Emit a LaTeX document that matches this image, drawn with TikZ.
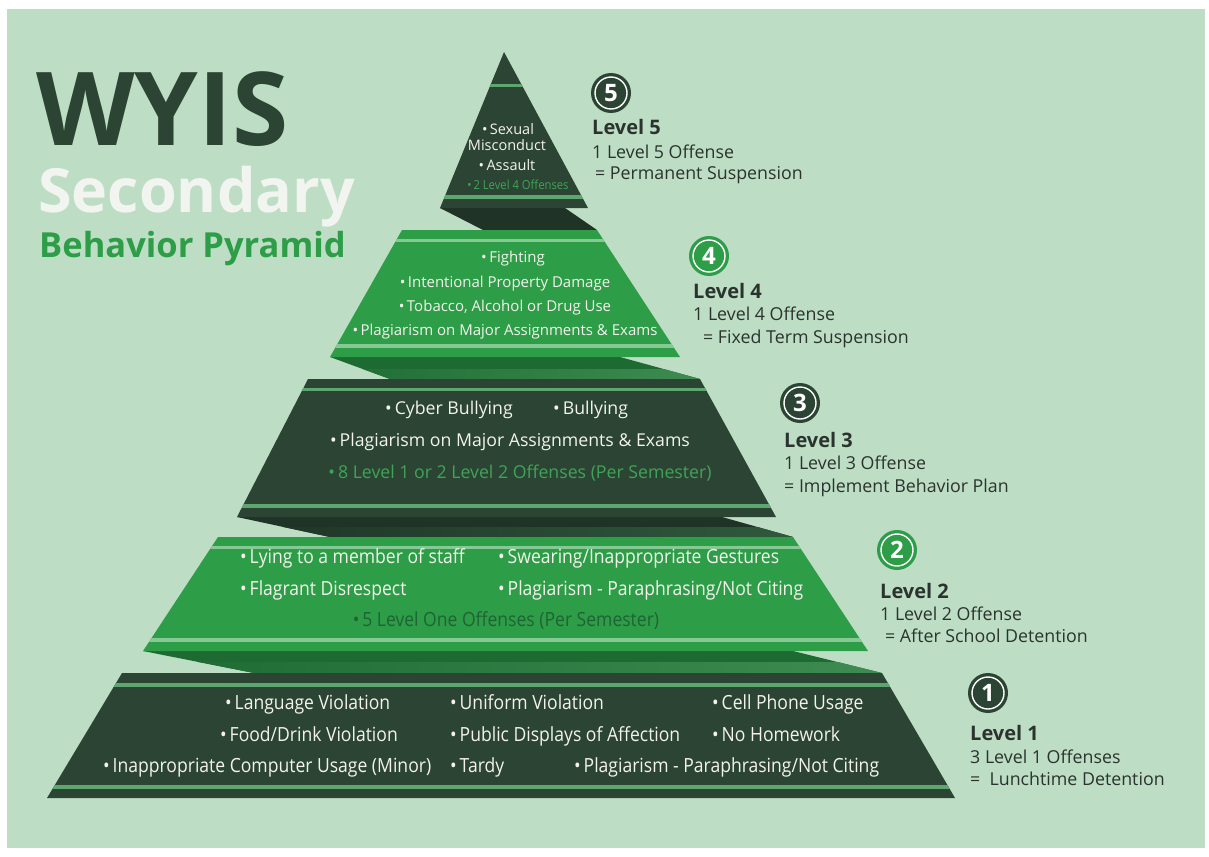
\documentclass[tikz,border=0pt]{standalone}
\usepackage{fontspec}
\setmainfont{Open Sans}
\usepackage{graphicx}
\definecolor{bg}{HTML}{BDDEC5}
\definecolor{dk}{HTML}{2C4433}
\definecolor{dkfold}{HTML}{1F3326}
\definecolor{dkfoldlt}{HTML}{2F5A3C}
\definecolor{gr}{HTML}{2E9D48}
\definecolor{grfold}{HTML}{1D6A33}
\definecolor{grfoldlt}{HTML}{3F8C52}
\definecolor{dkstripe}{HTML}{5DA670}
\definecolor{grstripe}{HTML}{86C994}
\definecolor{txt}{HTML}{F3F3EC}
\definecolor{hlgr}{HTML}{3FA457}
\definecolor{hldk}{HTML}{1E6433}
\definecolor{lbl}{HTML}{2A332D}
\definecolor{snd}{HTML}{F2F4F0}
\newcommand{\cnd}[1]{\scalebox{0.9}[1]{#1}}
\tikzset{
  t5/.style={anchor=base, text=txt, font=\fontsize{14.5}{15}\selectfont, inner sep=0pt},
  t4/.style={anchor=base, text=txt, font=\fontsize{15}{15}\selectfont, inner sep=0pt},
  t3/.style={anchor=base, text=txt, font=\fontsize{17.7}{18}\selectfont, inner sep=0pt},
  tc/.style={anchor=base, text=txt, font=\fontsize{19.5}{20}\selectfont, inner sep=0pt},
  lvlcircle/.style={circle, minimum size=40pt, inner sep=0pt, text=white,
    font=\fontsize{24}{24}\selectfont\bfseries,
    path picture={\draw[white, line width=1.4pt] (path picture bounding box.center) circle (16pt);}},
  lvlhead/.style={anchor=base west, inner sep=0pt, text=lbl, font=\fontsize{20}{20}\selectfont\bfseries},
  lvlline/.style={anchor=base west, inner sep=0pt, text=lbl, font=\fontsize{17.8}{18}\selectfont},
}
\begin{document}
\begin{tikzpicture}[x=1pt,y=-1pt]
\useasboundingbox (0,0) rectangle (1209,856);
\fill[white] (0,0) rectangle (1209,856);
\fill[bg] (7,9) rectangle (1205,848);

% ---------- folds ----------
\fill[dkfold] (440,208) -- (565,208) -- (597,230) -- (483,230) -- cycle;
\fill[grfold] (330,357) -- (620,357) -- (700,379) -- (390,379) -- cycle;
\begin{scope}\clip (330,357) -- (620,357) -- (700,379) -- (390,379) -- cycle;
  \shade[left color=grfold, right color=grfoldlt] (300,369) rectangle (710,379);
\end{scope}
\fill[dkfold] (237,517) -- (722,517) -- (793,537) -- (330,537) -- cycle;
\begin{scope}\clip (237,517) -- (722,517) -- (793,537) -- (330,537) -- cycle;
  \shade[left color=dkfold, right color=dkfoldlt] (230,527) rectangle (800,537);
\end{scope}
\fill[grfold] (143,651) -- (793,651) -- (882,673) -- (254,673) -- cycle;
\begin{scope}\clip (143,651) -- (793,651) -- (882,673) -- (254,673) -- cycle;
  \shade[left color=grfold, right color=grfoldlt] (140,662) rectangle (890,673);
\end{scope}

% ---------- tiers ----------
\fill[dk] (504,52) -- (588,208) -- (440,208) -- cycle;
\begin{scope}\clip (504,52) -- (588,208) -- (440,208) -- cycle;
  \fill[dkstripe] (0,84) rectangle (1209,87);
  \fill[dkstripe] (0,195) rectangle (1209,199);
\end{scope}

\fill[gr] (402,230) -- (597,230) -- (680,357) -- (330,357) -- cycle;
\begin{scope}\clip (402,230) -- (597,230) -- (680,357) -- (330,357) -- cycle;
  \fill[grstripe] (0,239) rectangle (1209,242);
  \fill[grstripe] (0,344) rectangle (1209,348);
\end{scope}

\fill[dk] (308,379) -- (700,379) -- (776,517) -- (237,517) -- cycle;
\begin{scope}\clip (308,379) -- (700,379) -- (776,517) -- (237,517) -- cycle;
  \fill[dkstripe] (0,388) rectangle (1209,391);
  \fill[dkstripe] (0,504) rectangle (1209,508);
\end{scope}

\fill[gr] (218,537) -- (793,537) -- (868,651) -- (143,651) -- cycle;
\begin{scope}\clip (218,537) -- (793,537) -- (868,651) -- (143,651) -- cycle;
  \fill[grstripe] (0,546) rectangle (1209,549);
  \fill[grstripe] (0,638) rectangle (1209,642);
\end{scope}

\fill[dk] (122,673) -- (882,673) -- (955,798) -- (47,798) -- cycle;
\begin{scope}\clip (122,673) -- (882,673) -- (955,798) -- (47,798) -- cycle;
  \fill[dkstripe] (0,683) rectangle (1209,687);
  \fill[dkstripe] (0,785) rectangle (1209,789);
\end{scope}

% ---------- title ----------
\node[anchor=base west, inner sep=0pt, text=dk, font=\fontsize{102}{102}\selectfont\bfseries] (ttl1) at (36,145) {WYIS};
\node[anchor=base west, inner sep=0pt, text=snd, font=\fontsize{61}{61}\selectfont\bfseries] (ttl2) at (38,212) {Secondary};
\node[anchor=base west, inner sep=0pt, text=gr, font=\fontsize{34.5}{35}\selectfont\bfseries] (ttl3) at (39,257) {Behavior Pyramid};

% ---------- tier 5 text ----------
\node[t5] (a1) at (508,135) {•\,Sexual};
\node[t5] (a2) at (507,150) {Misconduct};
\node[t5] (a3) at (507,170) {•\,Assault};
\node[t5, text=hlgr, font=\fontsize{12.5}{13}\selectfont] (a4) at (518,189) {\cnd{•\,2 Level 4 Offenses}};

% ---------- tier 4 text ----------
\node[t4] (b1) at (513,262) {•\,Fighting};
\node[t4] (b2) at (505,287) {•\,Intentional Property Damage};
\node[t4] (b3) at (505,311) {•\,Tobacco, Alcohol or Drug Use};
\node[t4] (b4) at (505,335) {•\,Plagiarism on Major Assignments \& Exams};

% ---------- tier 3 text ----------
\node[t3, anchor=base west] (c1) at (385,414) {•\,Cyber Bullying};
\node[t3, anchor=base west] (c2) at (553,414) {•\,Bullying};
\node[t3] (c3) at (510,446) {•\,Plagiarism on Major Assignments \& Exams};
\node[t3, text=hlgr] (c4) at (520,478) {•\,8 Level 1 or 2 Level 2 Offenses (Per Semester)};

% ---------- tier 2 text ----------
\node[tc, anchor=base west] (d1) at (240,563) {\cnd{•\,Lying to a member of staff}};
\node[tc, anchor=base west] (d2) at (498,563) {\cnd{•\,Swearing/Inappropriate Gestures}};
\node[tc, anchor=base west] (d3) at (240,595) {\cnd{•\,Flagrant Disrespect}};
\node[tc, anchor=base west] (d4) at (498,595) {\cnd{•\,Plagiarism - Paraphrasing/Not Citing}};
\node[tc, text=hldk] (d5) at (506,626) {\cnd{•\,5 Level One Offenses (Per Semester)}};

% ---------- tier 1 text ----------
\node[tc, anchor=base west] (e1) at (225,709) {\cnd{•\,Language Violation}};
\node[tc, anchor=base west] (e2) at (450,709) {\cnd{•\,Uniform Violation}};
\node[tc, anchor=base west] (e3) at (712,709) {\cnd{•\,Cell Phone Usage}};
\node[tc, anchor=base west] (e4) at (220,741) {\cnd{•\,Food/Drink Violation}};
\node[tc, anchor=base west] (e5) at (450,741) {\cnd{•\,Public Displays of Affection}};
\node[tc, anchor=base west] (e6) at (712,741) {\cnd{•\,No Homework}};
\node[tc, anchor=base west] (e7) at (103,772) {\cnd{•\,Inappropriate Computer Usage (Minor)}};
\node[tc, anchor=base west] (e8) at (450,772) {\cnd{•\,Tardy}};
\node[tc, anchor=base west] (e9) at (574,772) {\cnd{•\,Plagiarism - Paraphrasing/Not Citing}};

% ---------- level labels ----------
\node[lvlcircle, fill=dk] (n5) at (611,93) {5};
\node[lvlhead] (l5) at (592,135) {Level 5};
\node[lvlline] (l5a) at (592,158) {1 Level 5 Offense};
\node[lvlline] (l5b) at (592,179) {\,= Permanent Suspension};

\node[lvlcircle, fill=gr] (n4) at (709,256) {4};
\node[lvlhead] (l4) at (693,298) {Level 4};
\node[lvlline] (l4a) at (693,320) {1 Level 4 Offense};
\node[lvlline] (l4b) at (700,343) {\,= Fixed Term Suspension};

\node[lvlcircle, fill=dk] (n3) at (800,403) {3};
\node[lvlhead] (l3) at (784,447) {Level 3};
\node[lvlline] (l3a) at (784,469) {1 Level 3 Offense};
\node[lvlline] (l3b) at (784,492) {= Implement Behavior Plan};

\node[lvlcircle, fill=gr] (n2) at (897,550) {2};
\node[lvlhead] (l2) at (880,598) {Level 2};
\node[lvlline] (l2a) at (880,620) {1 Level 2 Offense};
\node[lvlline] (l2b) at (882,642) {\,= After School Detention};

\node[lvlcircle, fill=dk] (n1) at (988,693) {1};
\node[lvlhead] (l1) at (970,740) {Level 1};
\node[lvlline] (l1a) at (970,763) {3 Level 1 Offenses};
\node[lvlline] (l1b) at (970,785) {=\ \ Lunchtime Detention};
\end{tikzpicture}
\end{document}
